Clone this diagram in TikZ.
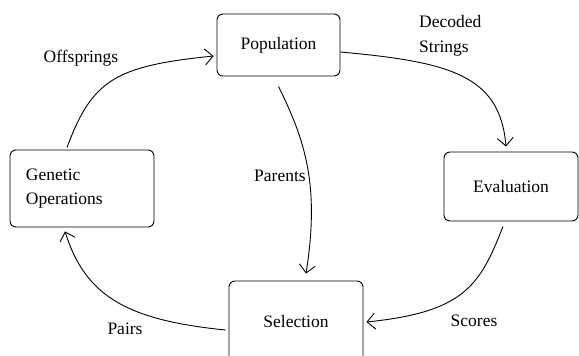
\documentclass[tikz,border=0pt]{standalone}
\usepackage{fontspec}
\setmainfont{Liberation Serif}
\usetikzlibrary{arrows.meta,calc}
\begin{document}
\begin{tikzpicture}[x=1pt,y=-1pt,
  box/.style={draw,line width=0.9pt,rounded corners=6pt,inner sep=0pt},
  lbl/.style={inner sep=0pt,font=\fontsize{17.5}{24.5}\selectfont},
  conn/.style={line width=0.9pt,-{Straight Barb[length=8pt,width=16pt,line width=0.9pt]}},
  font=\fontsize{17.5}{24.5}\selectfont]
\useasboundingbox (0,0) rectangle (579,356);
\clip (0,0) rectangle (579,356);
\fill[white] (0,0) rectangle (579,356);
\node[box,minimum width=123pt,minimum height=62pt] (pop) at (278.5,45) {Population};
\node[box,minimum width=134pt,minimum height=69pt] (eval) at (511,186.5) {Evaluation};
\node[box,minimum width=144pt,minimum height=77pt,align=left,text width=112pt] (gen) at (82,188.5) {Genetic\\Operations};
\node[box,minimum width=134pt,minimum height=82pt] (sel) at (296,322) {Selection};
\draw[conn] ([xshift=-15pt,yshift=2pt]gen.north) .. controls (92,80) and (115,66) .. ([xshift=-3pt,yshift=-11pt]pop.west);
\draw[conn] ([yshift=-7pt]pop.east) .. controls (450,62) and (500,75) .. ([xshift=-5pt,yshift=5pt]eval.north);
\draw[conn] ([yshift=-10pt]pop.south) .. controls (305,140) and (320,185) .. ([xshift=10pt,yshift=7pt]sel.north);
\draw[conn] ([xshift=-8pt,yshift=-5pt]eval.south) .. controls (480,285) and (465,312) .. ([xshift=3pt]sel.east);
\draw[conn] ([xshift=-3pt,yshift=-8pt]sel.west) .. controls (125,320) and (85,295) .. ([xshift=-17pt,yshift=-4pt]gen.south);
\node[lbl] (loff) at (81,58) {Offsprings};
\node[lbl,align=left,anchor=west] (ldec) at (419,36) {Decoded\\Strings};
\node[lbl] (lpar) at (280,176) {Parents};
\node[lbl] (lsco) at (474,321) {Scores};
\node[lbl] (lpai) at (125,329) {Pairs};
\end{tikzpicture}
\end{document}
